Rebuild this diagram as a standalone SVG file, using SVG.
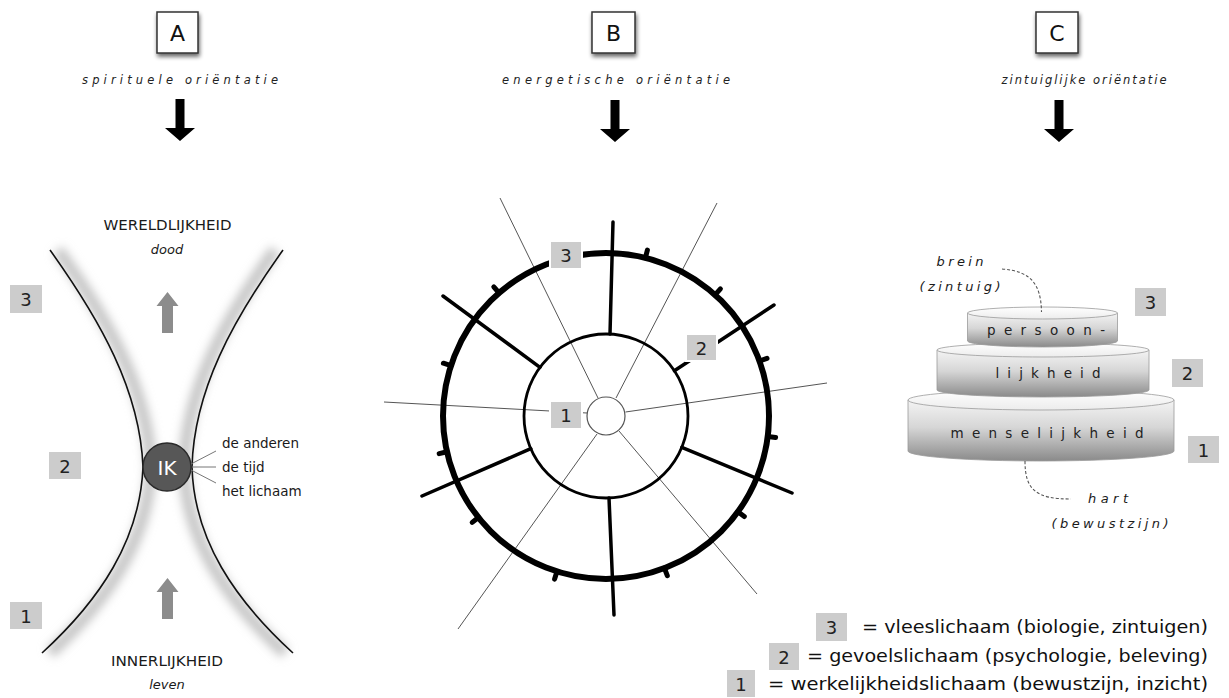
<svg xmlns="http://www.w3.org/2000/svg" width="1229" height="698" viewBox="0 0 1229 698">
<style>
text{font-family:"DejaVu Sans",Verdana,sans-serif;fill:#1a1a1a}
.hdr{font-size:22px;text-anchor:middle;fill:#111}
.ori{font-size:11.5px;font-style:italic;text-anchor:middle;fill:#222}
.num{font-size:18px;text-anchor:middle;fill:#222}
.nb{fill:#cccccc}
.nbw{fill:#cccccc;stroke:#fff;stroke-width:2}
.lbl{font-size:14px;text-anchor:middle}
.it{font-size:13px;font-style:italic;text-anchor:middle}
.side{font-size:13.5px;text-anchor:start}
.cake{font-size:13.5px;text-anchor:middle;fill:#222}
.leg{font-size:17.5px;text-anchor:end;fill:#111}
.thin{stroke:#555;stroke-width:1;fill:none}
.spoke{stroke:#000;stroke-width:3.5;fill:none;stroke-linecap:round}
.tick{stroke:#000;stroke-width:5;stroke-linecap:round}
.dash{stroke:#555;stroke-width:1.1;fill:none;stroke-dasharray:3 2}
.tierside{fill:url(#gside);stroke:#9a9a9a;stroke-width:0.8}
.tiertop{fill:url(#gtop);stroke:#9a9a9a;stroke-width:0.8}
</style>
<defs>
<filter id="shadow" x="-30%" y="-30%" width="170%" height="170%">
<feGaussianBlur in="SourceAlpha" stdDeviation="2"/>
<feOffset dx="1" dy="3" result="b"/>
<feComponentTransfer><feFuncA type="linear" slope="0.6"/></feComponentTransfer>
<feMerge><feMergeNode/><feMergeNode in="SourceGraphic"/></feMerge>
</filter>
<filter id="glow" x="-50%" y="-20%" width="200%" height="140%">
<feGaussianBlur stdDeviation="5"/>
</filter>
<linearGradient id="gside" x1="0" y1="0" x2="0" y2="1">
<stop offset="0" stop-color="#f4f4f4"/>
<stop offset="0.45" stop-color="#d6d6d6"/>
<stop offset="1" stop-color="#8a8a8a"/>
</linearGradient>
<linearGradient id="gtop" x1="0" y1="0" x2="0" y2="1">
<stop offset="0" stop-color="#ffffff"/>
<stop offset="1" stop-color="#ececec"/>
</linearGradient>
<path id="bigArrow" d="M-4.5,0 H4.5 V29 H15 L0,42 L-15,29 H-4.5 Z" fill="#000"/>
<path id="grayArrow" d="M0,0 L11,14 H5.5 V41 H-5.5 V14 H-11 Z" fill="#8c8c8c"/>
</defs>
<rect width="1229" height="698" fill="#fff"/>

<!-- Headers -->
<g id="header-A">
<rect x="157" y="12" width="41" height="41" fill="#fff" stroke="#333" stroke-width="1.5" filter="url(#shadow)"/>
<text class="hdr" x="177.5" y="41">A</text>
<text class="ori" x="180" y="84" textLength="196" lengthAdjust="spacing">spirituele oriëntatie</text>
<use href="#bigArrow" x="180" y="99"/>
</g>
<g id="header-B">
<rect x="592" y="12" width="43" height="41" fill="#fff" stroke="#333" stroke-width="1.5" filter="url(#shadow)"/>
<text class="hdr" x="613.5" y="41">B</text>
<text class="ori" x="616" y="84" textLength="228" lengthAdjust="spacing">energetische oriëntatie</text>
<use href="#bigArrow" x="615" y="100"/>
</g>
<g id="header-C">
<rect x="1036" y="12" width="42" height="41" fill="#fff" stroke="#333" stroke-width="1.5" filter="url(#shadow)"/>
<text class="hdr" x="1057" y="41">C</text>
<text class="ori" x="1084" y="84" font-size="11" textLength="165" lengthAdjust="spacing">zintuiglijke oriëntatie</text>
<use href="#bigArrow" x="1059" y="100"/>
</g>

<!-- Section A -->
<g id="hourglass">
<path d="M50,250 C100,320 140,390 143,467 C140,540 100,600 42,653" transform="translate(8,0)" stroke="#c6c6c6" stroke-width="12" fill="none" filter="url(#glow)"/>
<path d="M283,250 C233,320 194,390 192,467 C194,540 235,600 293,653" transform="translate(-8,0)" stroke="#c6c6c6" stroke-width="12" fill="none" filter="url(#glow)"/>
<path d="M50,250 C100,320 140,390 143,467 C140,540 100,600 42,653" stroke="#111" stroke-width="1.6" fill="none"/>
<path d="M283,250 C233,320 194,390 192,467 C194,540 235,600 293,653" stroke="#111" stroke-width="1.6" fill="none"/>
</g>
<g id="A-top-label">
<text class="lbl" x="167.5" y="230" textLength="128" lengthAdjust="spacingAndGlyphs">WERELDLIJKHEID</text>
<text class="it" x="167" y="254">dood</text>
</g>
<g id="A-bottom-label">
<text class="lbl" x="167" y="666" textLength="112" lengthAdjust="spacingAndGlyphs">INNERLIJKHEID</text>
<text class="it" x="167" y="689">leven</text>
</g>
<g id="A-arrow-up-top"><use href="#grayArrow" x="167.5" y="292"/></g>
<g id="A-arrow-up-bottom"><use href="#grayArrow" x="167.5" y="578"/></g>
<g id="IK">
<circle cx="167" cy="467" r="24" fill="#575757" stroke="#2a2a2a" stroke-width="1.5"/>
<text x="167" y="474.5" font-size="20" text-anchor="middle" style="fill:#fff">IK</text>
</g>
<g id="IK-connectors" stroke="#777" stroke-width="1">
<line x1="191" y1="464" x2="216" y2="451"/>
<line x1="192" y1="467" x2="216" y2="467"/>
<line x1="191" y1="470" x2="216" y2="483"/>
</g>
<g id="IK-labels">
<text class="side" x="222" y="448">de anderen</text>
<text class="side" x="222" y="472">de tijd</text>
<text class="side" x="222" y="496">het lichaam</text>
</g>
<g id="A-num-3"><rect class="nb" x="10" y="285" width="32" height="28"/><text class="num" x="26" y="306">3</text></g>
<g id="A-num-2"><rect class="nb" x="49" y="452" width="32" height="27"/><text class="num" x="65" y="472.5">2</text></g>
<g id="A-num-1"><rect class="nb" x="10" y="602" width="32" height="27"/><text class="num" x="26" y="622.5">1</text></g>

<!-- Section B -->
<g id="wheel">
<g id="thin-lines" class="thin">
<line x1="598" y1="398" x2="500" y2="198"/>
<line x1="616" y1="398" x2="717" y2="203"/>
<line x1="625.5" y1="412" x2="827" y2="383"/>
<line x1="587" y1="413" x2="384" y2="402"/>
<line x1="597" y1="434" x2="458" y2="629"/>
<line x1="619" y1="431" x2="757" y2="594"/>
</g>
<circle cx="606" cy="416" r="19" fill="#fff" stroke="#555" stroke-width="1.2"/>
<circle cx="606" cy="416" r="82" fill="none" stroke="#000" stroke-width="2.8"/>
<circle cx="606" cy="416" r="163" fill="none" stroke="#000" stroke-width="6"/>
<g id="spokes" class="spoke">
<line x1="610" y1="334" x2="613" y2="222"/>
<line x1="674.4" y1="370.7" x2="774" y2="305"/>
<line x1="681.8" y1="447.4" x2="792" y2="493"/>
<line x1="609" y1="498" x2="614" y2="615"/>
<line x1="530.8" y1="448.7" x2="422" y2="496"/>
<line x1="540" y1="367.3" x2="443" y2="296"/>
</g>
<g id="ticks" class="tick">
<line x1="645.4" y1="257.8" x2="647.4" y2="250.1"/>
<line x1="715.1" y1="294.9" x2="720.4" y2="288.9"/>
<line x1="759.5" y1="361.1" x2="767" y2="358.4"/>
<line x1="767.7" y1="436.4" x2="775.6" y2="437.4"/>
<line x1="737.9" y1="511.8" x2="744.3" y2="516.5"/>
<line x1="664.4" y1="568.2" x2="667.3" y2="575.6"/>
<line x1="557" y1="571.5" x2="554.6" y2="579.1"/>
<line x1="478.4" y1="517.5" x2="472.2" y2="522.4"/>
<line x1="447" y1="451.8" x2="439.2" y2="453.6"/>
<line x1="451" y1="365.6" x2="443.4" y2="363.2"/>
<line x1="499.1" y1="293" x2="493.8" y2="286.9"/>
</g>
</g>
<g id="B-num-3"><rect class="nbw" x="550" y="241" width="32" height="28"/><text class="num" x="566" y="262">3</text></g>
<g id="B-num-2"><rect class="nbw" x="686" y="334" width="31" height="27"/><text class="num" x="701.5" y="354.5">2</text></g>
<g id="B-num-1"><rect class="nbw" x="550" y="401" width="32" height="28"/><text class="num" x="566" y="422">1</text></g>

<!-- Section C -->
<g id="tier-1">
<path class="tierside" d="M908,400 L908,451 A133,10 0 0 0 1174,451 L1174,400 Z"/>
<ellipse class="tiertop" cx="1041" cy="400" rx="133" ry="10"/>
<text class="cake" x="1047" y="438" textLength="193" lengthAdjust="spacing">menselijkheid</text>
</g>
<g id="tier-2">
<path class="tierside" d="M937,350 L937,390 A106,7 0 0 0 1149,390 L1149,350 Z"/>
<ellipse class="tiertop" cx="1043" cy="350" rx="106" ry="7"/>
<text class="cake" x="1048" y="378" textLength="105" lengthAdjust="spacing">lijkheid</text>
</g>
<g id="tier-3">
<path class="tierside" d="M967.5,313 L967.5,341 A75,6 0 0 0 1117.5,341 L1117.5,313 Z"/>
<ellipse class="tiertop" cx="1042.5" cy="313" rx="75" ry="6"/>
<text class="cake" x="1046" y="335" textLength="118" lengthAdjust="spacing">persoon-</text>
</g>
<g id="C-connectors">
<path class="dash" d="M1002,269 C1030,271 1041,283 1041.5,312"/>
<path class="dash" d="M1025,461 C1025,490 1036,499 1071,499"/>
</g>
<g id="brein-label">
<text class="it" x="960" y="266" textLength="47" lengthAdjust="spacing">brein</text>
<text class="it" x="960" y="291" textLength="81" lengthAdjust="spacing">(zintuig)</text>
</g>
<g id="hart-label">
<text class="it" x="1108" y="503" textLength="40" lengthAdjust="spacing">hart</text>
<text class="it" x="1110" y="528" textLength="117" lengthAdjust="spacing">(bewustzijn)</text>
</g>
<g id="C-num-3"><rect class="nb" x="1135" y="288" width="31" height="28"/><text class="num" x="1150.5" y="309">3</text></g>
<g id="C-num-2"><rect class="nb" x="1172" y="359" width="31" height="28"/><text class="num" x="1187.5" y="380">2</text></g>
<g id="C-num-1"><rect class="nb" x="1188" y="436" width="31" height="27"/><text class="num" x="1203.5" y="456.5">1</text></g>

<!-- Legend -->
<g id="legend-3"><rect class="nb" x="816" y="613" width="31" height="28"/><text class="num" x="831.5" y="634">3</text>
<text class="leg" x="1208" y="633" textLength="346" lengthAdjust="spacingAndGlyphs">= vleeslichaam (biologie, zintuigen)</text></g>
<g id="legend-2"><rect class="nb" x="769" y="643" width="30" height="27"/><text class="num" x="784" y="663.5">2</text>
<text class="leg" x="1208" y="662" textLength="401" lengthAdjust="spacingAndGlyphs">= gevoelslichaam (psychologie, beleving)</text></g>
<g id="legend-1"><rect class="nb" x="727" y="670" width="28" height="27"/><text class="num" x="741" y="690.5">1</text>
<text class="leg" x="1208" y="690" textLength="440" lengthAdjust="spacingAndGlyphs">= werkelijkheidslichaam (bewustzijn, inzicht)</text></g>
</svg>
